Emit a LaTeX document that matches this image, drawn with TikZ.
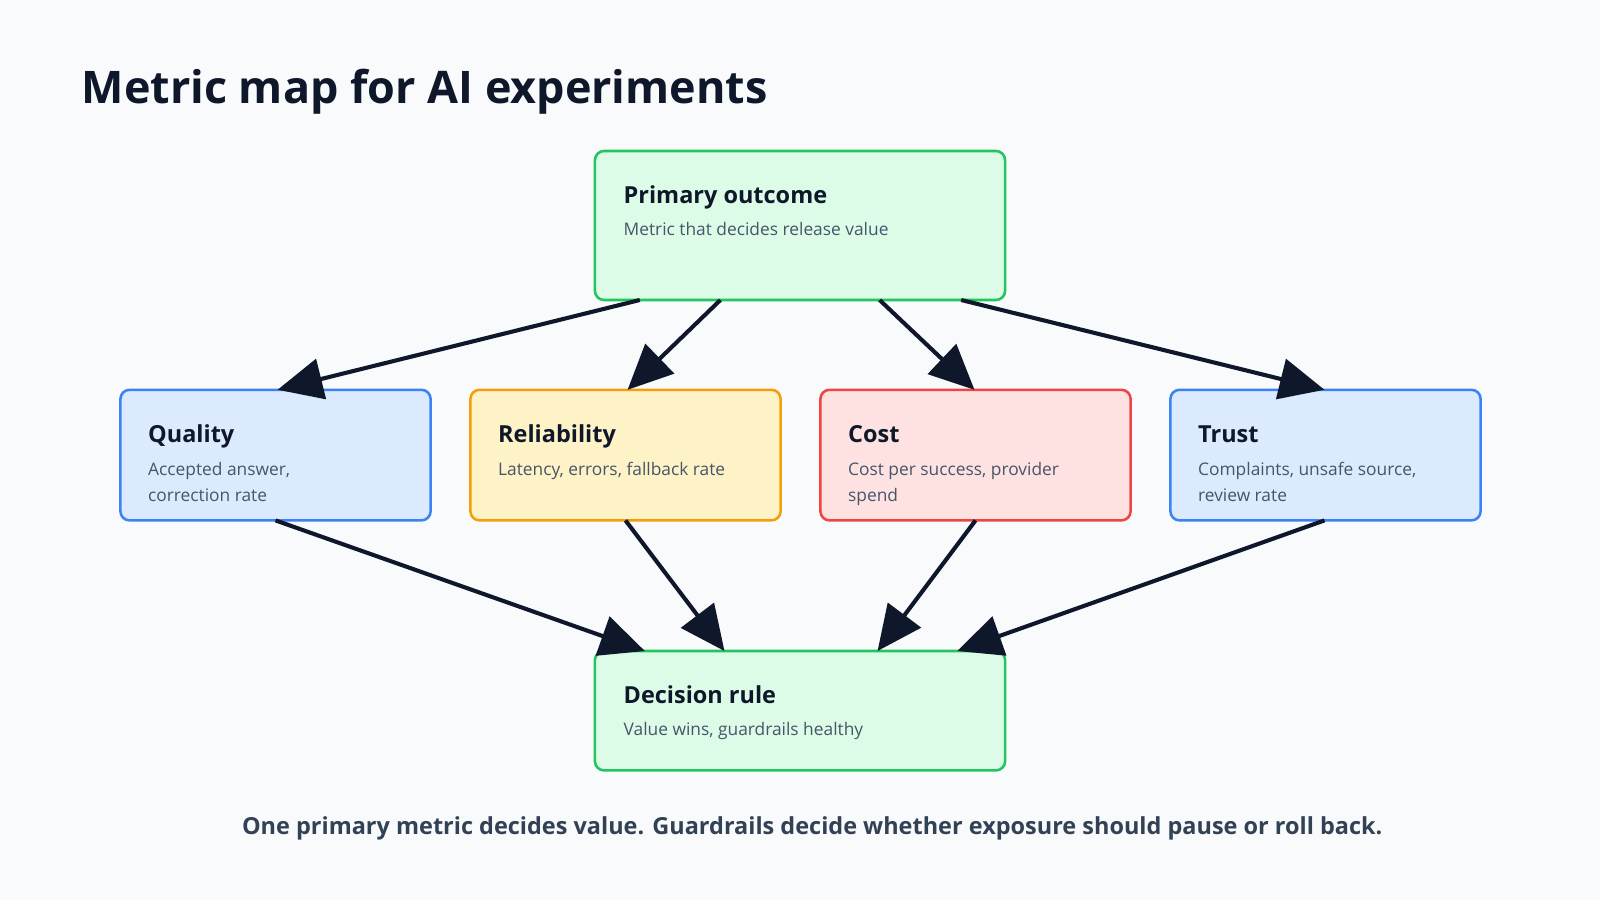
\documentclass[tikz,border=0pt]{standalone}
\usepackage{fontspec}
\setmainfont{Open Sans}
\usetikzlibrary{arrows.meta}
\definecolor{bg}{HTML}{F8FAFC}
\definecolor{ink}{HTML}{0F172A}
\definecolor{sub}{HTML}{475569}
\definecolor{cap}{HTML}{334155}
\definecolor{gb}{HTML}{22C55E}\definecolor{gf}{HTML}{DCFCE7}
\definecolor{bb}{HTML}{3B82F6}\definecolor{bf}{HTML}{DBEAFE}
\definecolor{yb}{HTML}{F59E0B}\definecolor{yf}{HTML}{FEF3C7}
\definecolor{rb}{HTML}{EF4444}\definecolor{rf}{HTML}{FEE2E2}
\begin{document}
\begin{tikzpicture}[x=1pt,y=-1pt,
  box/.style={rounded corners=9pt,line width=2.5pt},
  ttl/.style={anchor=base west,font=\bfseries\fontsize{23}{28}\selectfont,text=ink,inner sep=0},
  st/.style={anchor=north west,font=\fontsize{17}{25}\selectfont,text=sub,inner sep=0,align=left},
  arr/.style={line width=4pt,draw=ink,-{Triangle[length=44pt,width=40pt]}}]
\fill[bg] (0,0) rectangle (1568,882);
\useasboundingbox (0,0) rectangle (1568,882);
\node[anchor=base west,inner sep=0,font=\bfseries\fontsize{44}{52}\selectfont,text=ink] (title) at (80,101) {Metric map for AI experiments};
% boxes
\draw[box,draw=gb,fill=gf] (583,148) rectangle (985,294);
\draw[box,draw=bb,fill=bf] (118,382) rectangle (422,510);
\draw[box,draw=yb,fill=yf] (461,382) rectangle (765,510);
\draw[box,draw=rb,fill=rf] (804,382) rectangle (1108,510);
\draw[box,draw=bb,fill=bf] (1147,382) rectangle (1451,510);
\draw[box,draw=gb,fill=gf] (583,638) rectangle (985,755);
\node[ttl] (pt) at (611,199) {Primary outcome};
\node[st] (ps) at (611,218) {Metric that decides release value};
\node[ttl] (qt) at (145,434) {Quality};
\node[st] (qs) at (145,453) {Accepted answer,\\correction rate};
\node[ttl] (rt) at (488,434) {Reliability};
\node[st] (rs) at (488,453) {Latency, errors, fallback rate};
\node[ttl] (ct) at (831,434) {Cost};
\node[st] (cs) at (831,453) {Cost per success, provider\\spend};
\node[ttl] (tt) at (1174,434) {Trust};
\node[st] (ts) at (1174,453) {Complaints, unsafe source,\\review rate};
\node[ttl] (dt) at (611,689) {Decision rule};
\node[st] (ds) at (611,708) {Value wins, guardrails healthy};
% connector endpoints
\coordinate (a1) at (627,294); \coordinate (b1) at (272,382);
\coordinate (a2) at (706,294); \coordinate (b2) at (615,382);
\coordinate (a3) at (862,294); \coordinate (b3) at (955,382);
\coordinate (a4) at (942,294); \coordinate (b4) at (1298,382);
\coordinate (c1) at (270,510); \coordinate (d1) at (632,638);
\coordinate (c2) at (613,510); \coordinate (d2) at (710,638);
\coordinate (c3) at (956,510); \coordinate (d3) at (860,638);
\coordinate (c4) at (1298,510); \coordinate (d4) at (938,638);
\foreach \i in {1,2,3,4}{\draw[arr] (a\i) -- (b\i); \draw[arr] (c\i) -- (d\i);}
\node[anchor=base,inner sep=0,font=\bfseries\fontsize{23}{28}\selectfont,text=cap] (caption) at (796,818) {One primary metric decides value. Guardrails decide whether exposure should pause or roll back.};
\end{tikzpicture}
\end{document}
